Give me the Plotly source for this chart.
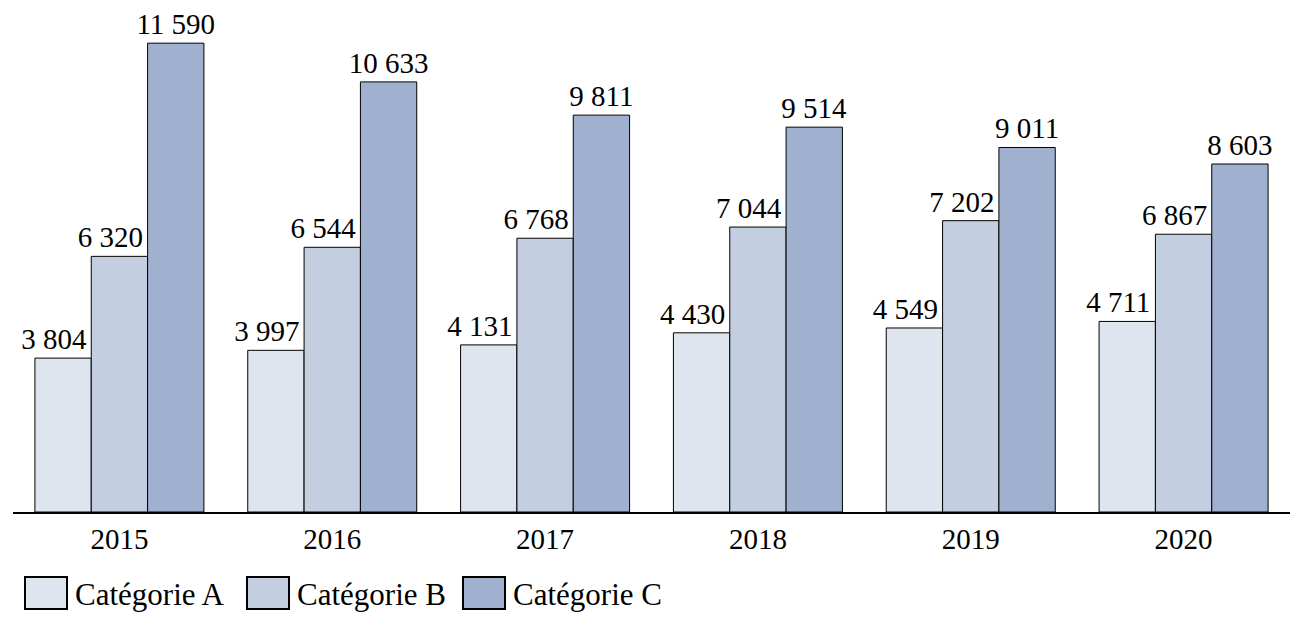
import plotly.graph_objects as go

years = ["2015", "2016", "2017", "2018", "2019", "2020"]
series_names = ["Catégorie A", "Catégorie B", "Catégorie C"]
cat_a = [3804, 3997, 4131, 4430, 4549, 4711]
cat_b = [6320, 6544, 6768, 7044, 7202, 6867]
cat_c = [11590, 10633, 9811, 9514, 9011, 8603]
colors = ["#dfe5ef", "#c3cee0", "#9fb1cf"]

W, H = 1304, 630
ML, MR, MT, MB = 13, 14, 10, 118
FONT = "Liberation Serif"
FS = 29
LEG_FS = 31
YMAX = 12410
GAP = 0.206
LABEL_SHIFT_PX = 9  # labels of A and B sit slightly left of their bar centre

all_vals = [cat_a, cat_b, cat_c]
fig = go.Figure()
# real bars (main axes); only C carries its label here (nothing is drawn over it)
for i, (name, vals, col) in enumerate(zip(series_names, all_vals, colors)):
    fig.add_trace(go.Bar(
        x=years, y=vals, name=name,
        marker=dict(color=col, line=dict(color="black", width=1)),
        texttemplate="%{y:,}" if i == 2 else None,
        textposition="outside" if i == 2 else "none",
        constraintext="none",
        textfont=dict(family=FONT, size=FS, color="black"),
        cliponaxis=False, showlegend=False, hoverinfo="skip",
    ))
# transparent overlay bars carrying the labels of A and B, drawn on top
for i, (name, vals) in enumerate(zip(series_names, all_vals)):
    fig.add_trace(go.Bar(
        x=years, y=vals, name=name, xaxis="x2", yaxis="y2",
        marker=dict(color="rgba(0,0,0,0)", line=dict(width=0)),
        texttemplate="%{y:,}" if i < 2 else None,
        textposition="outside" if i < 2 else "none",
        constraintext="none",
        textfont=dict(family=FONT, size=FS, color="black"),
        cliponaxis=False, showlegend=False, hoverinfo="skip",
    ))

pw = W - ML - MR
ph = H - MT - MB
def px_x(p):
    return (p - ML) / pw
def px_y(p):
    return (H - MB - p) / ph

# manual legend (large swatches)
swatch_left = [25, 247, 463]
for i, (name, col) in enumerate(zip(series_names, colors)):
    x0 = swatch_left[i]
    fig.add_shape(type="rect", xref="paper", yref="paper",
                  x0=px_x(x0), x1=px_x(x0 + 42), y0=px_y(609), y1=px_y(577),
                  fillcolor=col, line=dict(color="black", width=2))
    fig.add_annotation(xref="paper", yref="paper", x=px_x(x0 + 48), y=px_y(594),
                       text=name, showarrow=False, xanchor="left", yanchor="middle",
                       font=dict(family=FONT, size=LEG_FS, color="black"))

n = len(years)
shift = LABEL_SHIFT_PX / (pw / n)
fig.update_layout(
    width=W, height=H,
    margin=dict(l=ML, r=MR, t=MT, b=MB),
    barmode="group", bargap=GAP, bargroupgap=0,
    plot_bgcolor="white", paper_bgcolor="white",
    separators=", ",
    font=dict(family=FONT, size=FS, color="black"),
    xaxis=dict(showline=True, linecolor="black", linewidth=2, ticks="",
               range=[-0.5, n - 0.5],
               tickfont=dict(family=FONT, size=FS, color="black"), showgrid=False),
    yaxis=dict(visible=False, range=[0, YMAX], showgrid=False, zeroline=False),
    xaxis2=dict(overlaying="x", visible=False, range=[-0.5 + shift, n - 0.5 + shift]),
    yaxis2=dict(overlaying="y", visible=False, range=[0, YMAX]),
    hovermode=False,
)
fig.write_html("out.html", config={"displayModeBar": False},
               post_script="document.body.style.margin='0';document.body.style.overflow='hidden';")
